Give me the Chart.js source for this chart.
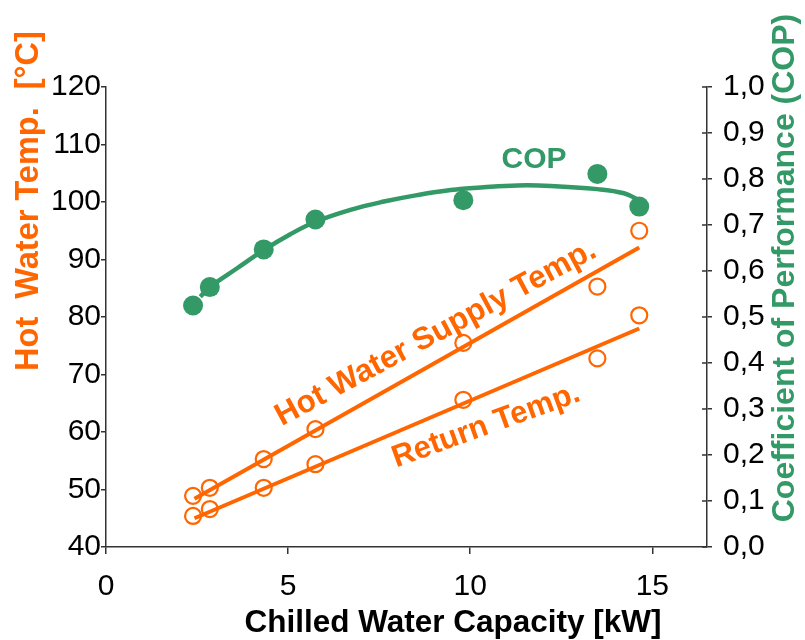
<!DOCTYPE html>
<html>
<head>
<meta charset="utf-8">
<script src="https://cdn.jsdelivr.net/npm/chart.js@4"></script>
<style>
  body { margin: 0; background: #fff; }
  canvas { display: block; }
</style>
</head>
<body>
<canvas id="chart" width="805" height="640"></canvas>
<script>
// measured capacities [kW]
const capacity = [2.39, 2.85, 4.33, 5.75, 9.81, 13.49, 14.64];
const supplyTemp = [48.9, 50.3, 55.3, 60.5, 75.5, 85.3, 95.0];
const returnTemp = [45.4, 46.6, 50.3, 54.4, 65.6, 72.8, 80.3];
const cop = [0.525, 0.565, 0.647, 0.712, 0.754, 0.811, 0.740];

// fitted curves
const supplyFitX = [2.43, 14.64];
const supplyFitY = [48.4, 92.1];
const returnFitX = [2.43, 14.64];
const returnFitY = [45.0, 78.0];
const copFitX = [2.59, 2.85, 3.60, 4.34, 5.06, 5.75, 6.71, 7.63, 8.54, 9.46, 10.37, 11.29, 12.21, 13.49, 14.22, 14.64];
const copFitY = [0.544, 0.565, 0.606, 0.646, 0.680, 0.707, 0.733, 0.751, 0.765, 0.776, 0.782, 0.786, 0.785, 0.778, 0.769, 0.754];

const xTicks = [0, 5, 10, 15];

const ORANGE = '#ff6600';
const GREEN = '#339966';
const FONT = '"Liberation Sans", Arial, sans-serif';

function pts(xs, ys) {
    return xs.map((x, i) => ({ x: x, y: ys[i] }));
}

const labelsPlugin = {
    id: 'labels',
    afterDraw(chart) {
        const ctx = chart.ctx;
        ctx.save();
        // cross ticks on the right axis (inner half)
        const y1 = chart.scales.y1;
        ctx.strokeStyle = '#333';
        ctx.lineWidth = 1.5;
        y1.ticks.forEach(t => {
            const py = y1.getPixelForValue(t.value);
            ctx.beginPath();
            ctx.moveTo(y1.left - 5, py);
            ctx.lineTo(y1.left, py);
            ctx.stroke();
        });

        function text(str, x, y, rot, color, size, baseline) {
            ctx.save();
            ctx.translate(x, y);
            ctx.rotate(rot * Math.PI / 180);
            ctx.fillStyle = color;
            ctx.font = 'bold ' + size + 'px ' + FONT;
            ctx.textAlign = 'center';
            ctx.textBaseline = baseline || 'middle';
            ctx.fillText(str, 0, 0);
            ctx.restore();
        }
        text('Hot  Water Temp.  [°C]', 29, 201, -90, ORANGE, 32.5);
        text('Coefficient of Performance (COP)', 785, 268, -90, GREEN, 32);
        text('Chilled Water Capacity [kW]', 453, 623, 0, '#000', 31.5);
        text('COP', 534, 160, 0, GREEN, 30);
        text('Hot Water Supply Temp.', 440, 341, -28.3, ORANGE, 31.4, 'alphabetic');
        text('Return Temp.', 489, 434, -19.9, ORANGE, 31, 'alphabetic');

        ctx.restore();
    }
};

const axisGrid = { drawOnChartArea: false, drawTicks: true, tickLength: 5, color: '#333', lineWidth: 1.5 };
const axisBorder = { display: true, color: '#333', width: 1.5 };
const tickFont = { family: FONT, size: 30 };

new Chart(document.getElementById('chart').getContext('2d'), {
    type: 'scatter',
    data: {
        datasets: [
            {
                label: 'Supply fit', data: pts(supplyFitX, supplyFitY), yAxisID: 'y',
                showLine: true, borderColor: ORANGE, borderWidth: 4, pointRadius: 0, order: 3
            },
            {
                label: 'Return fit', data: pts(returnFitX, returnFitY), yAxisID: 'y',
                showLine: true, borderColor: ORANGE, borderWidth: 4, pointRadius: 0, order: 3
            },
            {
                label: 'COP fit', data: pts(copFitX, copFitY), yAxisID: 'y1',
                showLine: true, borderColor: GREEN, borderWidth: 4.5, pointRadius: 0, tension: 0.4, order: 3
            },
            {
                label: 'Hot Water Supply Temp.', data: pts(capacity, supplyTemp), yAxisID: 'y',
                pointRadius: 8, pointBorderWidth: 2.2, pointBorderColor: ORANGE,
                pointBackgroundColor: 'rgba(0,0,0,0)', order: 1
            },
            {
                label: 'Return Temp.', data: pts(capacity, returnTemp), yAxisID: 'y',
                pointRadius: 8, pointBorderWidth: 2.2, pointBorderColor: ORANGE,
                pointBackgroundColor: 'rgba(0,0,0,0)', order: 1
            },
            {
                label: 'COP', data: pts(capacity, cop), yAxisID: 'y1',
                pointRadius: 10, pointBorderWidth: 0, pointBackgroundColor: GREEN, order: 1
            }
        ]
    },
    options: {
        responsive: false,
        animation: false,
        layout: { padding: { top: 87, left: 0, right: 0, bottom: 0 } },
        plugins: { legend: { display: false }, tooltip: { enabled: false } },
        scales: {
            x: {
                type: 'linear', position: 'bottom', min: 0, max: 16.5,
                afterBuildTicks: s => { s.ticks = xTicks.map(v => ({ value: v })); },
                afterFit: s => { s.height = 93; },
                ticks: { font: tickFont, color: '#000', padding: 15, maxRotation: 0 },
                grid: { ...axisGrid, tickLength: 7 }, border: axisBorder
            },
            y: {
                type: 'linear', position: 'left', min: 40, max: 120,
                afterFit: s => { s.width = 106; },
                ticks: { stepSize: 10, font: tickFont, color: '#000', padding: 0 },
                grid: axisGrid, border: axisBorder
            },
            y1: {
                type: 'linear', position: 'right', min: 0, max: 1,
                afterFit: s => { s.width = 98; },
                ticks: {
                    stepSize: 0.1, font: tickFont, color: '#000', padding: 11,
                    callback: v => v.toFixed(1).replace('.', ',')
                },
                grid: axisGrid, border: axisBorder
            }
        }
    },
    plugins: [labelsPlugin]
});
</script>
</body>
</html>
